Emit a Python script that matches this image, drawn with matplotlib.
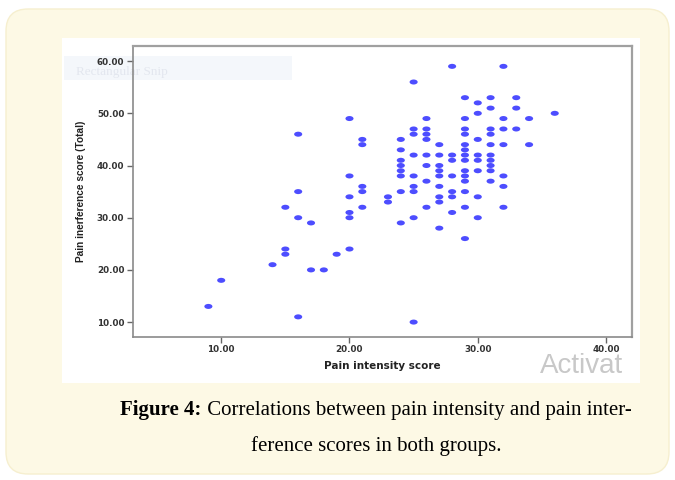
import numpy as np
import matplotlib
matplotlib.use("Agg")
import matplotlib.pyplot as plt
from matplotlib.patches import FancyBboxPatch, Rectangle
from matplotlib.path import Path
from matplotlib.transforms import Affine2D

# Pain intensity score (x) and the interference scores seen at each x
x_values = [9, 10, 14, 15, 16, 17, 18, 19, 20, 21, 23, 24, 25, 26, 27, 28, 29, 30, 31, 32, 33, 34, 36]
y_groups = [
    [13],
    [18],
    [21],
    [32, 24, 23],
    [46, 35, 30, 11],
    [29, 20],
    [20],
    [23],
    [49, 38, 34, 31, 30, 24],
    [45, 44, 36, 35, 32],
    [34, 33],
    [45, 43, 41, 40, 39, 38, 35, 29],
    [56, 47, 46, 42, 38, 36, 35, 30, 10],
    [49, 47, 46, 45, 42, 40, 37, 32],
    [44, 42, 40, 39, 38, 36, 34, 33, 28],
    [59, 42, 41, 38, 35, 34, 31],
    [53, 49, 47, 46, 44, 43, 42, 41, 39, 38, 37, 35, 32, 26],
    [52, 50, 45, 42, 41, 39, 34, 30],
    [53, 51, 47, 46, 44, 42, 41, 40, 39, 37],
    [59, 49, 47, 44, 38, 36, 32],
    [53, 51, 47],
    [49, 44],
    [50],
]
x_ticks = [10, 20, 30, 40]
y_ticks = [10, 20, 30, 40, 50, 60]

xs = [x for x, ys in zip(x_values, y_groups) for _ in ys]
ys = [y for g in y_groups for y in g]

W, H = 675, 480
fig = plt.figure(figsize=(W / 100, H / 100), dpi=100)
fig.patch.set_facecolor("white")

# background axes in pixel units
bg = fig.add_axes([0, 0, 1, 1])
bg.set_xlim(0, W)
bg.set_ylim(H, 0)
bg.axis("off")
bg.add_patch(FancyBboxPatch((6, 9), 663, 465, boxstyle="round,pad=0,rounding_size=22",
                            facecolor="#fdf9e5", edgecolor="#f6efcf", lw=1))
white = Rectangle((62, 38), 578, 345, facecolor="white", edgecolor="none")
bg.add_patch(white)
# faint snip label and activation watermark in the screenshot
bg.add_patch(Rectangle((64, 56), 228, 24, facecolor="#f4f7fb", edgecolor="none"))
bg.text(76, 72, "Rectangular Snip", fontsize=9.5, color="#e3e7ef", va="center",
        family="Liberation Serif")
act = bg.text(540, 353, "Activat", fontsize=20, color="#c8c8c8", va="top",
              family="Liberation Sans")
act.set_clip_path(white)

# caption
cap_font = "Liberation Serif"
r = fig.canvas.get_renderer()
t1 = bg.text(0, 410, "Figure 4:", fontsize=15, weight="bold", family=cap_font, va="center")
t2 = bg.text(0, 410, " Correlations between pain intensity and pain inter-", fontsize=15,
             family=cap_font, va="center")
w1 = t1.get_window_extent(r).width
w2 = t2.get_window_extent(r).width
x0 = 376 - (w1 + w2) / 2
t1.set_x(x0)
t2.set_x(x0 + w1)
bg.text(376, 446, "ference scores in both groups.", fontsize=15, family=cap_font,
        ha="center", va="center")

# scatter axes (transparent so the snip box shows through)
ax = fig.add_axes([132.7 / W, 1 - 336.7 / H, (631.7 - 132.7) / W, (336.7 - 46) / H])
ax.patch.set_alpha(0)
ell = Path.unit_circle().transformed(Affine2D().scale(1.0, 0.62))
ax.scatter(xs, ys, marker=ell, s=34, color="#4d4dff", edgecolors="none", zorder=3)

ax.set_xlim(3.1, 42.0)
ax.set_ylim(7.2, 62.9)
ax.set_xticks(x_ticks)
ax.set_yticks(y_ticks)
ax.set_xticklabels([f"{v:.2f}" for v in x_ticks])
ax.set_yticklabels([f"{v:.2f}" for v in y_ticks])
for lab in ax.get_xticklabels() + ax.get_yticklabels():
    lab.set_fontsize(6.3)
    lab.set_fontweight("bold")
    lab.set_color("#333333")
    lab.set_family("DejaVu Sans")
ax.tick_params(direction="out", length=4, width=1, color="#666666", pad=2)
for side in ["left", "bottom"]:
    ax.spines[side].set_color("#8a8a8a")
    ax.spines[side].set_linewidth(1.2)
for side in ["top", "right"]:
    ax.spines[side].set_color("#a0a0a0")
    ax.spines[side].set_linewidth(1.6)

ax.set_xlabel("Pain intensity score", fontsize=7.5, weight="bold", family="DejaVu Sans",
              color="#222222", labelpad=5)
ax.set_ylabel("Pain inerference score (Total)", fontsize=7.3, weight="bold",
              family="Liberation Sans", color="#222222", labelpad=8)

fig.savefig("out.png", dpi=100)
